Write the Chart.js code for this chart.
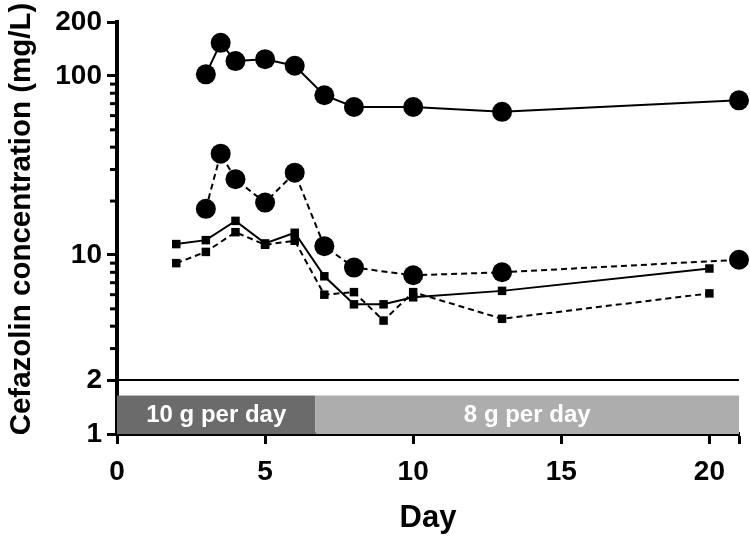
<!DOCTYPE html>
<html>
<head>
<meta charset="utf-8">
<script src="https://cdn.jsdelivr.net/npm/chart.js@4.4.1/dist/chart.umd.min.js"></script>
<style>
  html, body { margin: 0; padding: 0; background: #fff; }
  #wrap { width: 750px; height: 541px; }
</style>
</head>
<body>
<div id="wrap"><canvas id="chart" width="750" height="541"></canvas></div>
<script>
// Data
const circleDays = [3, 3.5, 4, 5, 6, 7, 8, 10, 13, 21];
const circleSolid = [102, 153, 121, 124, 114, 78, 67, 67, 63, 73];
const circleDashed = [18.1, 36.8, 26.5, 19.6, 28.8, 11.2, 8.5, 7.7, 8.0, 9.4];

const squareDays = [2, 3, 4, 5, 6, 7, 8, 9, 10, 13, 20];
const squareSolid = [11.5, 12.1, 15.5, 11.6, 13.3, 7.6, 5.3, 5.3, 5.8, 6.3, 8.4];
const squareDashed = [9.0, 10.4, 13.4, 11.4, 12.0, 6.0, 6.2, 4.3, 6.2, 4.4, 6.1];

const refLineDays = [0, 21];
const refLineValue = 2;

const phaseStart = [0, 6.7];
const phaseEnd = [6.7, 21];
const phaseLabels = ['10 g per day', '8 g per day'];
const phaseColors = ['#6b6b6b', '#adadad'];
const phaseTop = 1.64;

const xTicks = [0, 5, 10, 15, 20, 21];
const xTickLabels = ['0', '5', '10', '15', '20', ''];
const yTicks = [1, 2, 10, 100, 200];
const yTickLabels = ['1', '2', '10', '100', '200'];
const yMinorTicks = [3, 4, 5, 6, 7, 8, 9, 20, 30, 40, 50, 60, 70, 80, 90];
const yTitle = 'Cefazolin concentration (mg/L)';

const FONT = "'Liberation Sans', Arial, sans-serif";

function pts(xs, ys) {
    return xs.map((x, i) => ({ x: x, y: ys[i] }));
}

// dosing bands, minor log ticks and the y title
const extras = {
    id: 'extras',
    beforeDatasetsDraw(chart) {
        const { ctx, scales: { x, y } } = chart;
        const top = y.getPixelForValue(phaseTop);
        const bottom = y.getPixelForValue(1);
        ctx.save();
        phaseStart.forEach((s, i) => {
            const left = x.getPixelForValue(s);
            const right = x.getPixelForValue(phaseEnd[i]);
            ctx.fillStyle = phaseColors[i];
            ctx.fillRect(left, top, right - left, bottom - top);
            ctx.fillStyle = '#fff';
            ctx.font = 'bold 24px ' + FONT;
            ctx.textAlign = 'center';
            ctx.textBaseline = 'middle';
            ctx.fillText(phaseLabels[i], (left + right) / 2, (top + bottom) / 2 + 1);
        });
        ctx.restore();
    },
    afterDraw(chart) {
        const { ctx, scales: { y } } = chart;
        ctx.save();
        ctx.strokeStyle = '#000';
        ctx.lineWidth = 3;
        yMinorTicks.forEach(v => {
            const py = y.getPixelForValue(v);
            ctx.beginPath();
            ctx.moveTo(y.right - 7, py);
            ctx.lineTo(y.right, py);
            ctx.stroke();
        });
        // axis title
        ctx.translate(22, (y.top + y.bottom) / 2 - 9);
        ctx.rotate(-Math.PI / 2);
        ctx.fillStyle = '#000';
        ctx.font = 'bold 29.5px ' + FONT;
        ctx.textAlign = 'center';
        ctx.textBaseline = 'middle';
        ctx.fillText(yTitle, 0, 0);
        ctx.restore();
    }
};

const ctx = document.getElementById('chart').getContext('2d');
new Chart(ctx, {
    type: 'line',
    data: {
        datasets: [
            {
                data: pts(refLineDays, [refLineValue, refLineValue]),
                borderColor: '#000', borderWidth: 2, pointRadius: 0
            },
            {
                data: pts(circleDays, circleSolid),
                borderColor: '#000', borderWidth: 2,
                pointStyle: 'circle', pointRadius: 10, pointBackgroundColor: '#000', pointBorderWidth: 0
            },
            {
                data: pts(circleDays, circleDashed),
                borderColor: '#000', borderWidth: 2, borderDash: [6, 4],
                pointStyle: 'circle', pointRadius: 10, pointBackgroundColor: '#000', pointBorderWidth: 0
            },
            {
                data: pts(squareDays, squareSolid),
                borderColor: '#000', borderWidth: 2,
                pointStyle: 'rect', pointRadius: 6, pointBackgroundColor: '#000', pointBorderWidth: 0
            },
            {
                data: pts(squareDays, squareDashed),
                borderColor: '#000', borderWidth: 2, borderDash: [6, 4],
                pointStyle: 'rect', pointRadius: 6, pointBackgroundColor: '#000', pointBorderWidth: 0
            }
        ]
    },
    options: {
        responsive: false,
        animation: false,
        clip: false,
        layout: { padding: { top: 22, right: 8, left: 0, bottom: 0 } },
        plugins: { legend: { display: false }, tooltip: { enabled: false } },
        elements: { line: { tension: 0 } },
        scales: {
            x: {
                type: 'linear',
                min: 0,
                max: 21,
                afterBuildTicks: scale => { scale.ticks = xTicks.map(v => ({ value: v })); },
                afterFit: scale => { scale.height = 107; },
                border: { display: true, color: '#000', width: 4 },
                grid: { drawOnChartArea: false, tickLength: 10, tickWidth: 3, tickColor: '#000' },
                ticks: {
                    autoSkip: false, maxRotation: 0, padding: 11, color: '#000',
                    font: { family: FONT, size: 28, weight: 'bold' },
                    callback: (v, i) => xTickLabels[i]
                },
                title: {
                    display: true, text: 'Day', color: '#000',
                    font: { family: FONT, size: 31, weight: 'bold' },
                    padding: { top: 0, bottom: 4 }
                }
            },
            y: {
                type: 'logarithmic',
                min: 1,
                max: 200,
                afterBuildTicks: scale => { scale.ticks = yTicks.map(v => ({ value: v })); },
                afterFit: scale => { scale.width = 117; },
                border: { display: true, color: '#000', width: 4 },
                grid: { drawOnChartArea: false, tickLength: 10, tickWidth: 3, tickColor: '#000' },
                ticks: {
                    autoSkip: false, padding: 5, color: '#000',
                    font: { family: FONT, size: 28, weight: 'bold' },
                    callback: (v, i) => yTickLabels[i]
                }
            }
        }
    },
    plugins: [extras]
});
</script>
</body>
</html>
